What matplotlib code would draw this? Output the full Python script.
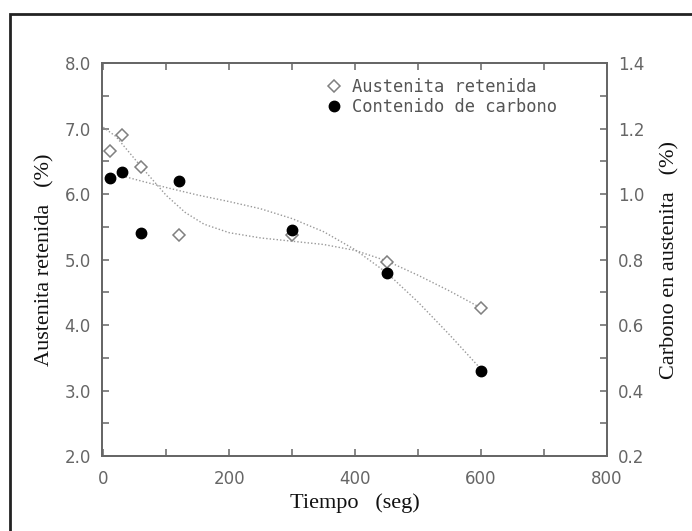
import numpy as np
import matplotlib.pyplot as plt
from matplotlib.ticker import MultipleLocator
from matplotlib.patches import Rectangle

# measured points
tiempo = [10, 30, 60, 120, 300, 450, 600]
austenita = [6.65, 6.90, 6.42, 5.38, 5.38, 4.97, 4.26]
carbono = [1.05, 1.066, 0.88, 1.04, 0.89, 0.76, 0.46]

# fitted curves
t_fit_aus = [0, 20, 60, 100, 130, 160, 200, 250, 300, 350, 400, 450, 500, 550, 600]
aus_fit = [7.02, 6.88, 6.42, 5.98, 5.72, 5.54, 5.41, 5.33, 5.28, 5.23, 5.14, 4.98, 4.76, 4.52, 4.26]
t_fit_c = [25, 60, 100, 150, 200, 250, 300, 350, 400, 450, 500, 550, 600]
c_fit = [1.058, 1.04, 1.02, 0.997, 0.977, 0.955, 0.925, 0.885, 0.83, 0.76, 0.67, 0.57, 0.465]

GRAY = '#666666'
tick_font = dict(family='DejaVu Sans', size=12, color=GRAY)
label_font = dict(family='Liberation Serif', size=16, color='#111111')

fig = plt.figure(figsize=(6.92, 5.31), dpi=100)
ax = fig.add_axes([0.1474, 0.1412, 0.7298, 0.7400])
ax2 = ax.twinx()

ax.plot(t_fit_aus, aus_fit, ls=(0, (1, 1.5)), color='#999999', lw=1.0)
ax2.plot(t_fit_c, c_fit, ls=(0, (1, 1.5)), color='#999999', lw=1.0)
ax.plot(tiempo, austenita, ls='none', marker='D', ms=6.5, mfc='white',
        mec='#808080', mew=1.1, label='Austenita retenida', zorder=4)
ax2.plot(tiempo, carbono, ls='none', marker='o', ms=7.5, mfc='black',
         mec='black', label='Contenido de carbono', zorder=4)

ax.set_xlim(-2, 800)
ax.set_ylim(2.0, 8.0)
ax2.set_ylim(0.2, 1.4)

ax.xaxis.set_major_locator(MultipleLocator(200))
ax.xaxis.set_minor_locator(MultipleLocator(100))
ax.yaxis.set_major_locator(MultipleLocator(1.0))
ax.yaxis.set_minor_locator(MultipleLocator(0.5))
ax2.yaxis.set_major_locator(MultipleLocator(0.2))
ax2.yaxis.set_minor_locator(MultipleLocator(0.1))
ax.set_yticklabels(['%.1f' % v for v in ax.get_yticks()])
ax2.set_yticklabels(['%.1f' % v for v in ax2.get_yticks()])

for a in (ax, ax2):
    for s in a.spines.values():
        s.set_color(GRAY)
        s.set_linewidth(1.3)
    a.tick_params(which='both', direction='in', color=GRAY, width=1.1)
    a.tick_params(which='major', length=5, pad=8)
    a.tick_params(which='minor', length=5)
    for lbl in a.get_xticklabels() + a.get_yticklabels():
        lbl.set(**tick_font)
ax.tick_params(axis='x', which='both', top=True)
ax.tick_params(axis='x', pad=10)

ax.set_xlabel('Tiempo   (seg)', labelpad=4, **label_font)
ax.set_ylabel('Austenita retenida   (%)', labelpad=7, **label_font)
ax2.set_ylabel('Carbono en austenita   (%)', labelpad=11, **label_font)

h1, l1 = ax.get_legend_handles_labels()
h2, l2 = ax2.get_legend_handles_labels()
leg = ax2.legend(h1 + h2, l1 + l2, loc='upper left', bbox_to_anchor=(0.42, 1.0),
                 frameon=False, handlelength=0.5, handletextpad=0.8,
                 labelspacing=0.1, prop=dict(family='DejaVu Sans Mono', size=12.3))
for t in leg.get_texts():
    t.set_color('#555555')

# outer frame of the figure
fig.patches.append(Rectangle((10 / 692, -0.05), 1.2, (531 - 14) / 531 + 0.05,
                             transform=fig.transFigure, fill=False,
                             edgecolor='#222222', lw=2.0))

fig.savefig('out.png', dpi=100)
